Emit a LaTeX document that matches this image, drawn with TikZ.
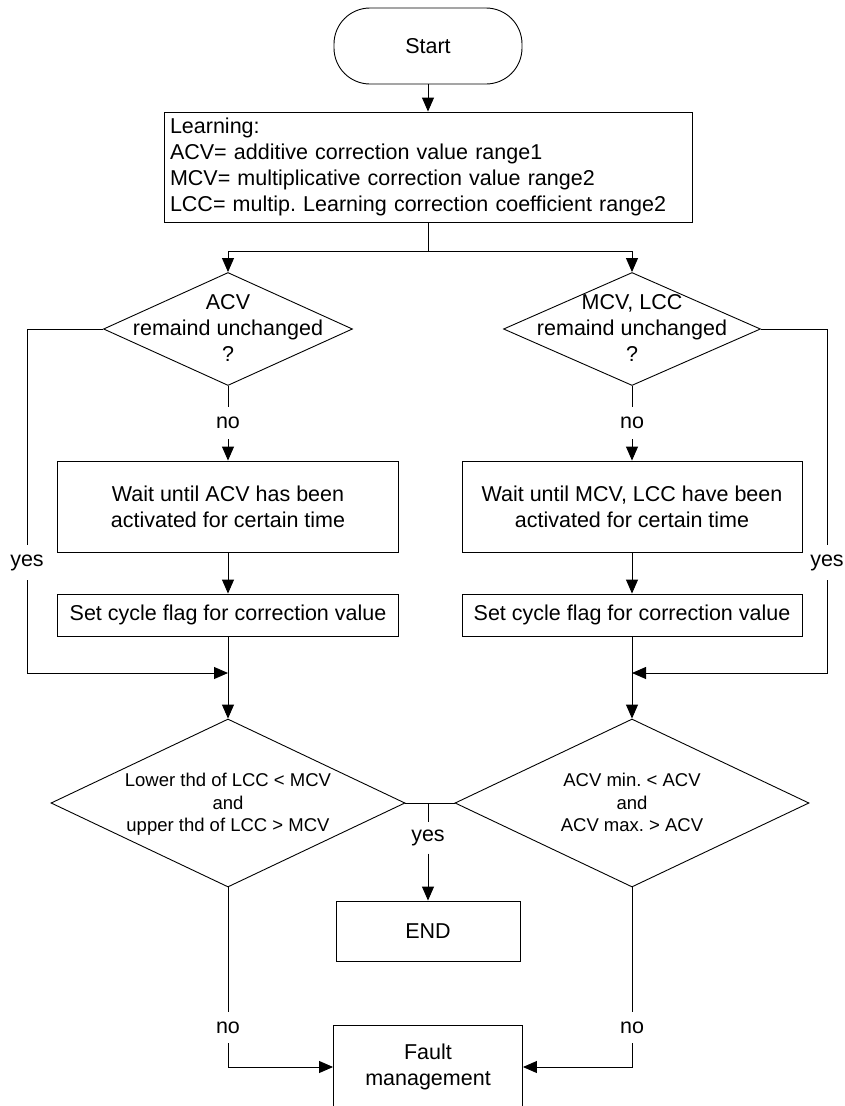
\documentclass[tikz,border=0pt]{standalone}
\usepackage{fontspec}
\setmainfont{Liberation Sans}
\usetikzlibrary{shapes.geometric,arrows.meta}
\frenchspacing

\newcommand\bigtxt{\fontsize{21.5}{26}\selectfont}
\newcommand\smalltxt{\fontsize{18.5}{22.5}\selectfont}
% centred lines inside a diamond, without letting them enlarge the shape
\newcommand\dlines[1]{\makebox[0pt]{\smash{\raisebox{-0.32em}{\begin{tabular}{@{}c@{}}#1\end{tabular}}}}}

\begin{document}
\begin{tikzpicture}[x=1pt,y=-1pt,
  base/.style={draw, line width=0.9pt, font=\bigtxt},
  box/.style={base, rectangle, inner sep=0pt, align=center},
  term/.style={box, rounded corners=36pt},
  dec/.style={base, diamond, inner sep=0pt},
  lbl/.style={inner sep=0pt, font=\bigtxt, minimum height=32pt},
  conn/.style={line width=0.9pt},
  arr/.style={conn, -{Triangle[length=14pt,width=12pt]}}]

\clip (0,0) rectangle (844,1106);

% main nodes
\node[term, minimum width=188pt, minimum height=76pt] (start) at (428,46) {Start};
\node[box, minimum width=528pt, minimum height=110pt, text width=516pt, inner xsep=6pt, align=left] (learn) at (428,167)
  {Learning:\\ACV= additive correction value range1\\MCV= multiplicative correction value range2\\LCC= multip. Learning correction coefficient range2};

\node[dec, minimum width=249pt, minimum height=113pt] (d1) at (228,329) {\dlines{ACV\\remaind unchanged\\?}};
\node[dec, minimum width=257pt, minimum height=113pt] (d2) at (632,329) {\dlines{MCV, LCC\\remaind unchanged\\?}};

\node[box, minimum width=341pt, minimum height=91pt] (w1) at (228,506.5) {Wait until ACV has been\\activated for certain time};
\node[box, minimum width=340pt, minimum height=91pt] (w2) at (632,506.5) {Wait until MCV, LCC have been\\activated for certain time};

\node[box, minimum width=341pt, minimum height=42pt] (s1) at (228,615) {Set cycle flag for correction value};
\node[box, minimum width=340pt, minimum height=42pt] (s2) at (632,615) {Set cycle flag for correction value};

\node[dec, font=\smalltxt, minimum width=354pt, minimum height=168pt] (b1) at (228,803)
  {\dlines{Lower thd of LCC {<} MCV\\and\\upper thd of LCC {>} MCV}};
\node[dec, font=\smalltxt, minimum width=354pt, minimum height=168pt] (b2) at (632,803)
  {\dlines{ACV min. {<} ACV\\and\\ACV max. {>} ACV}};

\node[box, minimum width=184pt, minimum height=60pt] (end) at (428,931) {END};
\node[box, minimum width=189pt, minimum height=84pt] (fault) at (428,1067) {Fault\\management};

% branch labels
\node[lbl] (no1) at (228,423) {no};
\node[lbl] (no2) at (632,423) {no};
\node[lbl, minimum height=35pt] (yes1) at (27,562.5) {yes};
\node[lbl, minimum height=35pt] (yes2) at (827,562.5) {yes};
\node[lbl, minimum height=31pt] (yes3) at (428,838) {yes};
\node[lbl, minimum height=31pt] (no3) at (228,1027.5) {no};
\node[lbl, minimum height=31pt] (no4) at (632,1027.5) {no};

% junction points
\coordinate (split) at (428,251);
\coordinate (m1) at (228,673);
\coordinate (m2) at (632,673);
\coordinate (j) at (428,803);

% connectors
\draw[arr] (start) -- (learn);
\draw[conn] (learn.south) -- (split);
\draw[arr] (split) -| (d1.north);
\draw[arr] (split) -| (d2.north);

\draw[conn] (d1.south) -- (no1.north);
\draw[arr] (no1.south) -- (w1.north);
\draw[conn] (d2.south) -- (no2.north);
\draw[arr] (no2.south) -- (w2.north);

\draw[arr] (w1) -- (s1);
\draw[arr] (w2) -- (s2);

\draw[conn] (d1.west) -| (yes1.north);
\draw[arr] (yes1.south) |- (m1);
\draw[conn] (d2.east) -| (yes2.north);
\draw[arr] (yes2.south) |- (m2);

\draw[arr] (s1.south) -- (b1.north);
\draw[arr] (s2.south) -- (b2.north);

\draw[conn] (b1.east) -- (b2.west);
\draw[conn] (j) -- (yes3.north);
\draw[arr] (yes3.south) -- (end.north);

\draw[conn] (b1.south) -- (no3.north);
\draw[arr] (no3.south) |- (fault.west);
\draw[conn] (b2.south) -- (no4.north);
\draw[arr] (no4.south) |- (fault.east);
\end{tikzpicture}
\end{document}
